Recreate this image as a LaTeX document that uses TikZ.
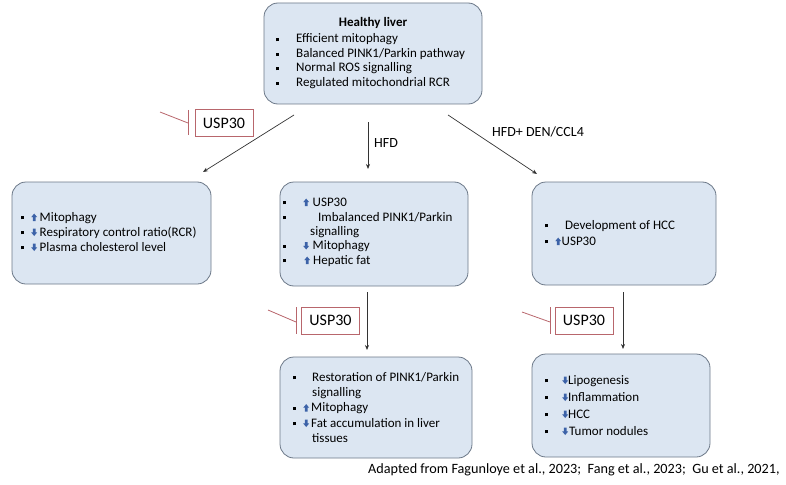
\documentclass[tikz,border=0pt]{standalone}
\usepackage{fontspec}
\setmainfont{Carlito}
\usetikzlibrary{arrows.meta}
\definecolor{boxfill}{HTML}{DCE6F2}
\definecolor{boxdraw}{HTML}{6C7888}
\definecolor{uspred}{HTML}{B8666C}
\definecolor{arblue}{HTML}{3C62A8}
\newcommand{\bsq}{\rule[0.12em]{3pt}{3pt}}
\newcommand{\upa}{\tikz[baseline=0pt]\fill[arblue] (0.9pt,0pt)--(0.9pt,3.8pt)--(-0.7pt,3.8pt)--(2.3pt,7.4pt)--(5.3pt,3.8pt)--(3.7pt,3.8pt)--(3.7pt,0pt)--cycle;}
\newcommand{\dna}{\tikz[baseline=0pt]\fill[arblue] (0.9pt,7.4pt)--(0.9pt,3.6pt)--(-0.7pt,3.6pt)--(2.3pt,0pt)--(5.3pt,3.6pt)--(3.7pt,3.6pt)--(3.7pt,7.4pt)--cycle;}
\tikzset{
  box/.style={draw=boxdraw, fill=boxfill, rounded corners=14pt, line width=0.8pt, inner sep=0pt},
  txt/.style={anchor=base west, inner sep=0pt, font=\fontsize{13}{15}\selectfont, text=black},
  txtb/.style={txt, font=\fontsize{13}{15}\selectfont},
  lbl/.style={inner sep=0pt, font=\fontsize{14}{16}\selectfont, text=black},
  uspbox/.style={draw=uspred, fill=white, line width=0.8pt, minimum width=58pt, minimum height=27pt, inner sep=0pt, font=\fontsize{16}{18}\selectfont, text=black},
  inh/.style={draw=uspred, line width=0.8pt},
  arr/.style={draw=black!80, line width=0.7pt, -{Stealth[length=5pt,width=4pt]}}
}
\begin{document}
\begin{tikzpicture}[x=1pt,y=-1pt]
\useasboundingbox (0,0) rectangle (786,484);
% boxes
\node[box, minimum width=218pt, minimum height=101pt] (top) at (373,53.5) {};
\node[box, minimum width=199pt, minimum height=102pt] (left) at (111.5,233) {};
\node[box, minimum width=188pt, minimum height=104pt] (mid) at (374,234) {};
\node[box, minimum width=184pt, minimum height=103pt] (right) at (624,233.5) {};
\node[box, minimum width=192pt, minimum height=101pt] (botmid) at (376,407.5) {};
\node[box, minimum width=178pt, minimum height=103pt] (botright) at (621,405.5) {};
% top text
\node[txt, anchor=base, font=\bfseries\fontsize{13}{15}\selectfont] (th) at (373,27) {Healthy liver};
\node[txt] (t1) at (276,43) {\makebox[20pt][l]{\bsq}Efficient mitophagy};
\node[txt] (t2) at (276,57.5) {\makebox[20pt][l]{\bsq}Balanced PINK1/Parkin pathway};
\node[txt] (t3) at (276,72) {\makebox[20pt][l]{\bsq}Normal ROS signalling};
\node[txt] (t4) at (276,86.5) {\makebox[20pt][l]{\bsq}Regulated mitochondrial RCR};
% left text
\node[txt] (l1) at (21,221) {\makebox[10pt][l]{\bsq}\upa\hspace{2.5pt}Mitophagy};
\node[txt] (l2) at (21,236) {\makebox[10pt][l]{\bsq}\dna\hspace{2.5pt}Respiratory control ratio(RCR)};
\node[txt] (l3) at (21,251) {\makebox[10pt][l]{\bsq}\dna\hspace{2.5pt}Plasma cholesterol level};
% middle text
\node[txt] (m1) at (283,206) {\makebox[20pt][l]{\bsq}\upa\hspace{3.5pt}USP30};
\node[txt] (m2) at (283,221) {\makebox[35pt][l]{\bsq}Imbalanced PINK1/Parkin};
\node[txt] (m3) at (310,235) {signalling};
\node[txt] (m4) at (283,249.5) {\makebox[20pt][l]{\bsq}\dna\hspace{3.5pt}Mitophagy};
\node[txt] (m5) at (283,264) {\makebox[21pt][l]{\bsq}\upa\hspace{3pt}Hepatic fat};
% right text
\node[txt] (r1) at (545,229) {\makebox[20pt][l]{\bsq}Development of HCC};
\node[txt] (r2) at (545,245) {\makebox[10pt][l]{\bsq}\upa\hspace{0.5pt}USP30};
% bottom middle text
\node[txt] (b1) at (293,381) {\makebox[19pt][l]{\bsq}Restoration of PINK1/Parkin};
\node[txt] (b2) at (312,396) {signalling};
\node[txt] (b3) at (293,411.5) {\makebox[10pt][l]{\bsq}\upa\hspace{2pt}Mitophagy};
\node[txt] (b4) at (293,427) {\makebox[10pt][l]{\bsq}\dna\hspace{2pt}Fat accumulation in liver};
\node[txt] (b5) at (312,442) {tissues};
% bottom right text
\node[txtb] (c1) at (545,384) {\makebox[17pt][l]{\bsq}\dna\hspace{0pt}Lipogenesis};
\node[txtb] (c2) at (545,401) {\makebox[17pt][l]{\bsq}\dna\hspace{0pt}Inflammation};
\node[txtb] (c3) at (545,418) {\makebox[17pt][l]{\bsq}\dna\hspace{0pt}HCC};
\node[txtb] (c4) at (545,435) {\makebox[17pt][l]{\bsq}\dna\hspace{1pt}Tumor nodules};
% arrows
\coordinate (a1s) at (294,115);
\coordinate (a1e) at (203,172);
\draw[arr] (a1s) -- (a1e);
\coordinate (a2s) at (368,122);
\coordinate (a2e) at (368,169);
\draw[arr] (a2s) -- (a2e);
\coordinate (a3s) at (448,115);
\coordinate (a3e) at (537,174);
\draw[arr] (a3s) -- (a3e);
\coordinate (a4s) at (367,292);
\coordinate (a4e) at (367,350);
\draw[arr] (a4s) -- (a4e);
\coordinate (a5s) at (623,292);
\coordinate (a5e) at (623,349);
\draw[arr] (a5s) -- (a5e);
% labels
\node[lbl, anchor=west] (hfd) at (374,143) {HFD};
\node[lbl, anchor=west] (hfdden) at (492,132) {HFD+ DEN/CCL4};
% USP30 inhibitor boxes
\node[uspbox] (u1) at (224,123) {USP30};
\coordinate (u1b1) at (188,110);
\coordinate (u1b2) at (188,135);
\coordinate (u1c) at (188,123);
\coordinate (u1s) at (160,112);
\draw[inh] (u1b1) -- (u1b2);
\draw[inh] (u1s) -- (u1c);
\node[uspbox] (u2) at (330.5,320.5) {USP30};
\coordinate (u2b1) at (296,307);
\coordinate (u2b2) at (296,334);
\coordinate (u2c) at (296,322);
\coordinate (u2s) at (268,310);
\draw[inh] (u2b1) -- (u2b2);
\draw[inh] (u2s) -- (u2c);
\node[uspbox] (u3) at (584,320.5) {USP30};
\coordinate (u3b1) at (550,307);
\coordinate (u3b2) at (550,334);
\coordinate (u3c) at (550,322);
\coordinate (u3s) at (522,312);
\draw[inh] (u3b1) -- (u3b2);
\draw[inh] (u3s) -- (u3c);
% footer
\node[txt, font=\fontsize{14.2}{16}\selectfont] (foot) at (368,473) {Adapted from Fagunloye et al., 2023;\ \ Fang et al., 2023;\ \ Gu et al., 2021,};
\end{tikzpicture}
\end{document}
